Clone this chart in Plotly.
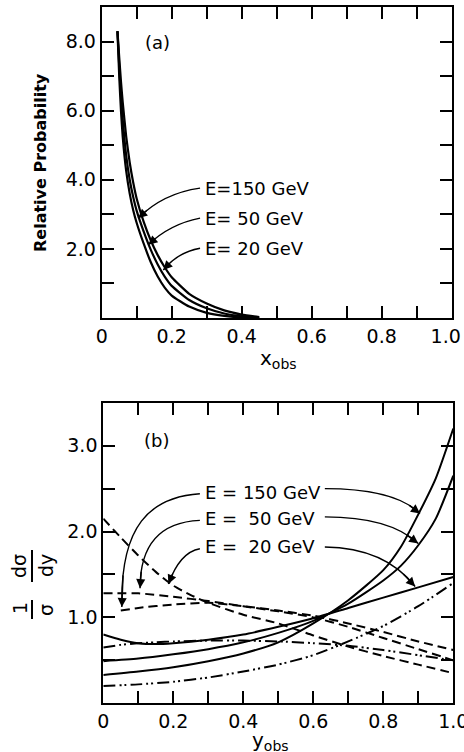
import plotly.graph_objects as go

# ---------------- data: panel (a) ----------------
xa = [0.045, 0.05, 0.055, 0.06, 0.07, 0.08, 0.09, 0.10, 0.12, 0.14, 0.16, 0.18, 0.20, 0.25, 0.30, 0.35, 0.40, 0.45]
pa_150 = [8.3, 7.0, 6.0, 5.25, 4.25, 3.6, 3.12, 2.75, 2.15, 1.62, 1.2, 0.88, 0.65, 0.33, 0.15, 0.06, 0.015, 0.0]
pa_50 = [8.3, 7.3, 6.45, 5.75, 4.7, 4.0, 3.5, 3.1, 2.5, 1.98, 1.55, 1.2, 0.93, 0.52, 0.28, 0.13, 0.05, 0.01]
pa_20 = [8.3, 7.55, 6.85, 6.25, 5.25, 4.5, 3.92, 3.45, 2.78, 2.25, 1.82, 1.47, 1.18, 0.7, 0.42, 0.22, 0.1, 0.03]

xa_ticks = [0, 0.1, 0.2, 0.3, 0.4, 0.5, 0.6, 0.7, 0.8, 0.9, 1.0]
xa_labels = ["0", "", "0.2", "", "0.4", "", "0.6", "", "0.8", "", "1.0\u00a0\u00a0"]
ya_ticks = [1, 2, 3, 4, 5, 6, 7, 8]
ya_labels = ["", "2.0", "", "4.0", "", "6.0", "", "8.0"]

# ---------------- data: panel (b) ----------------
xs = [0, 0.1, 0.2, 0.3, 0.4, 0.5, 0.6, 0.7, 0.8, 0.85, 0.9, 0.95, 1.0]
sol_150 = [0.33, 0.37, 0.42, 0.49, 0.58, 0.71, 0.93, 1.2, 1.55, 1.82, 2.2, 2.62, 3.2]
sol_50 = [0.49, 0.52, 0.57, 0.63, 0.71, 0.82, 0.96, 1.16, 1.43, 1.6, 1.84, 2.15, 2.65]
x_dip = [0, 0.05, 0.1, 0.15, 0.2, 0.3, 0.4, 0.5, 0.6, 0.7, 0.8, 0.9, 1.0]
sol_20 = [0.8, 0.74, 0.70, 0.69, 0.70, 0.74, 0.8, 0.89, 0.99, 1.11, 1.23, 1.35, 1.47]

x_dA = [0, 0.05, 0.1, 0.15, 0.2, 0.25, 0.3, 0.4, 0.5, 0.6, 0.7, 0.8, 0.9, 1.0]
dash_20 = [2.15, 1.93, 1.72, 1.53, 1.37, 1.26, 1.17, 1.03, 0.93, 0.79, 0.66, 0.55, 0.45, 0.35]
x_dB = [0, 0.1, 0.2, 0.3, 0.4, 0.5, 0.6, 0.7, 0.8, 0.9, 1.0]
dash_50 = [1.28, 1.28, 1.24, 1.19, 1.13, 1.07, 1.0, 0.89, 0.76, 0.63, 0.5]
x_dC = [0.05, 0.1, 0.2, 0.3, 0.4, 0.5, 0.6, 0.7, 0.8, 0.9, 1.0]
dash_150 = [1.08, 1.11, 1.15, 1.17, 1.13, 1.08, 1.02, 0.93, 0.83, 0.72, 0.62]

x_d1 = [0, 0.05, 0.1, 0.15, 0.2, 0.3, 0.4, 0.5, 0.6, 0.7, 0.8, 0.9, 1.0]
dd_1 = [0.65, 0.68, 0.70, 0.71, 0.72, 0.73, 0.73, 0.72, 0.70, 0.67, 0.62, 0.56, 0.5]
x_d2 = [0, 0.1, 0.2, 0.3, 0.4, 0.5, 0.6, 0.7, 0.8, 0.9, 1.0]
dd_2 = [0.2, 0.22, 0.25, 0.3, 0.37, 0.45, 0.56, 0.72, 0.9, 1.13, 1.4]

xb_ticks = [0, 0.1, 0.2, 0.3, 0.4, 0.5, 0.6, 0.7, 0.8, 0.9, 1.0]
xb_labels = ["0", "", "0.2", "", "0.4", "", "0.6", "", "0.8", "", "1.0"]
yb_ticks = [0.5, 1.0, 1.5, 2.0, 2.5, 3.0]
yb_labels = ["", "1.0", "", "2.0", "", "3.0"]

energies = ["E=150 GeV", "E= 50 GeV", "E= 20 GeV"]
energies_b = ["E = 150 GeV", "E =  50 GeV", "E =  20 GeV"]

FONT = "DejaVu Sans"
BLACK = "black"
DASH = "9px,5px"
DASHDOT = "12px,4px,2px,3px,2px,4px"

fig = go.Figure()

def add_line(x, y, xa_, ya_, dash="solid", width=2.0, smooth=0.6):
    fig.add_trace(go.Scatter(x=x, y=y, mode="lines", xaxis=xa_, yaxis=ya_,
                             line=dict(color=BLACK, width=width, dash=dash,
                                       shape="spline", smoothing=smooth),
                             showlegend=False, hoverinfo="skip"))

for ys in (pa_150, pa_50, pa_20):
    add_line(xa, ys, "x", "y", width=2.2, smooth=0.5)

add_line(xs, sol_150, "x2", "y2")
add_line(xs, sol_50, "x2", "y2")
add_line(x_dip, sol_20, "x2", "y2")
add_line(x_dA, dash_20, "x2", "y2", dash=DASH)
add_line(x_dB, dash_50, "x2", "y2", dash=DASH)
add_line(x_dC, dash_150, "x2", "y2", dash=DASH)
add_line(x_d1, dd_1, "x2", "y2", dash=DASHDOT)
add_line(x_d2, dd_2, "x2", "y2", dash=DASHDOT)

axis_common = dict(showline=True, linewidth=2, linecolor=BLACK, mirror="ticks",
                   ticks="inside", ticklen=12, tickwidth=2, tickcolor=BLACK,
                   showgrid=False, zeroline=False, automargin=False,
                   ticklabeloverflow="allow",
                   tickfont=dict(family=FONT, size=19, color=BLACK))

fig.update_layout(
    width=464, height=752,
    margin=dict(l=0, r=0, t=0, b=0),
    paper_bgcolor="white", plot_bgcolor="white",
    xaxis=dict(domain=[0.2192, 0.9735], range=[0, 1], anchor="y",
               tickmode="array", tickvals=xa_ticks, ticktext=xa_labels, **axis_common),
    yaxis=dict(domain=[0.5771, 0.9907], range=[0, 9], anchor="x",
               tickmode="array", tickvals=ya_ticks, ticktext=ya_labels, **axis_common),
    xaxis2=dict(domain=[0.2226, 0.9769], range=[0, 1], anchor="y2",
                tickmode="array", tickvals=xb_ticks, ticktext=xb_labels, **axis_common),
    yaxis2=dict(domain=[0.0648, 0.4645], range=[0, 3.5], anchor="x2",
                tickmode="array", tickvals=yb_ticks, ticktext=yb_labels, **axis_common),
)

# ---------- helpers for curved arrows ----------
def qpt(p0, c, p1, t):
    return tuple((1 - t) ** 2 * p0[i] + 2 * (1 - t) * t * c[i] + t ** 2 * p1[i] for i in range(2))

def cpt(p0, c1, c2, p1, t):
    return tuple((1 - t) ** 3 * p0[i] + 3 * (1 - t) ** 2 * t * c1[i] + 3 * (1 - t) * t ** 2 * c2[i] + t ** 3 * p1[i] for i in range(2))

def head(tip, tail, xr, yr):
    fig.add_annotation(x=tip[0], y=tip[1], ax=tail[0], ay=tail[1], xref=xr, yref=yr,
                       axref=xr, ayref=yr, text="", showarrow=True, arrowhead=2,
                       arrowsize=1.3, arrowwidth=1.4, arrowcolor=BLACK, standoff=0)

def qarrow(p0, c, p1, xr, yr):
    fig.add_shape(type="path", xref=xr, yref=yr,
                  path=f"M {p0[0]},{p0[1]} Q {c[0]},{c[1]} {p1[0]},{p1[1]}",
                  line=dict(color=BLACK, width=1.4))
    head(p1, qpt(p0, c, p1, 0.8), xr, yr)

def carrow(p0, c1, c2, p1, xr, yr):
    fig.add_shape(type="path", xref=xr, yref=yr,
                  path=f"M {p0[0]},{p0[1]} C {c1[0]},{c1[1]} {c2[0]},{c2[1]} {p1[0]},{p1[1]}",
                  line=dict(color=BLACK, width=1.4))
    head(p1, cpt(p0, c1, c2, p1, 0.85), xr, yr)

def paper_text(txt, px, py, size, angle=0):
    fig.add_annotation(x=px / 464, y=1 - py / 752, xref="paper", yref="paper",
                       text=txt, textangle=angle, showarrow=False,
                       xanchor="center", yanchor="middle",
                       font=dict(family=FONT, size=size, color=BLACK))

# ---------- panel (a) annotations ----------
txt_y_a = [3.76, 2.89, 2.02]
for lab, yy in zip(energies, txt_y_a):
    fig.add_annotation(x=0.288, y=yy, xref="x", yref="y", text=lab, showarrow=False,
                       xanchor="left", yanchor="middle",
                       font=dict(family=FONT, size=18, color=BLACK))
qarrow((0.281, 3.76), (0.175, 3.61), (0.104, 2.89), "x", "y")
qarrow((0.281, 2.89), (0.195, 2.72), (0.133, 2.12), "x", "y")
qarrow((0.281, 2.02), (0.218, 1.91), (0.176, 1.39), "x", "y")

fig.add_annotation(x=0.16, y=7.97, xref="x", yref="y", text="(a)", showarrow=False,
                   xanchor="center", yanchor="middle",
                   font=dict(family=FONT, size=18, color=BLACK))

paper_text("x<sub>obs</sub>", 278, 359, 20)
paper_text("<b>Relative Probability</b>", 40, 163, 16, angle=-90)

# ---------- panel (b) annotations ----------
txt_y_b = [2.46, 2.15, 1.82]
for lab, yy in zip(energies_b, txt_y_b):
    fig.add_annotation(x=0.285, y=yy, xref="x2", yref="y2", text=lab, showarrow=False,
                       xanchor="left", yanchor="middle",
                       font=dict(family=FONT, size=18, color=BLACK))

carrow((0.276, 2.44), (0.133, 2.40), (0.048, 2.07), (0.053, 1.12), "x2", "y2")
carrow((0.276, 2.13), (0.162, 2.11), (0.105, 1.84), (0.105, 1.34), "x2", "y2")
qarrow((0.276, 1.80), (0.219, 1.76), (0.186, 1.39), "x2", "y2")
qarrow((0.633, 2.50), (0.833, 2.50), (0.905, 2.21), "x2", "y2")
qarrow((0.633, 2.17), (0.819, 2.17), (0.900, 1.86), "x2", "y2")
qarrow((0.633, 1.82), (0.805, 1.81), (0.891, 1.36), "x2", "y2")

fig.add_annotation(x=0.153, y=3.06, xref="x2", yref="y2", text="(b)", showarrow=False,
                   xanchor="center", yanchor="middle",
                   font=dict(family=FONT, size=18, color=BLACK))

paper_text("y<sub>obs</sub>", 270, 741, 20)

# rotated 1/σ dσ/dy label (reads bottom-to-top, numerators on the left)
for txt, px, py in [("dσ", 19, 566), ("dy", 46, 566), ("1", 20, 608), ("σ", 46, 610)]:
    paper_text(txt, px, py, 19, angle=-90)
for y0, y1 in [(550, 582), (600, 619)]:
    fig.add_shape(type="line", xref="paper", yref="paper",
                  x0=32 / 464, x1=32 / 464, y0=1 - y0 / 752, y1=1 - y1 / 752,
                  line=dict(color=BLACK, width=2))

fig.write_html("out.html", config={"displayModeBar": False},
               post_script="document.body.style.margin='0';document.body.style.padding='0';")
